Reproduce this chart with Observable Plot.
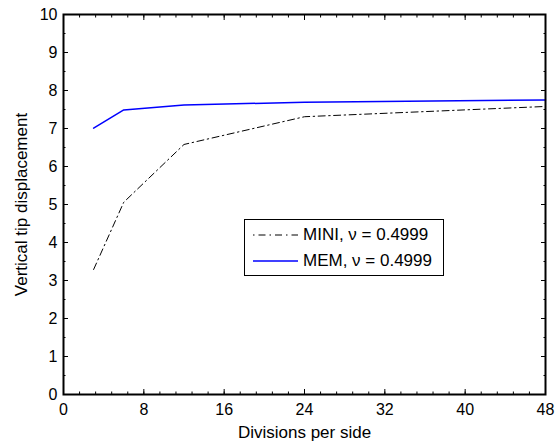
<!DOCTYPE html>
<html>
<head>
<meta charset="utf-8">
<script src="https://cdn.jsdelivr.net/npm/d3@7"></script>
<script src="https://cdn.jsdelivr.net/npm/@observablehq/plot@0.6"></script>
<style>
  body { margin: 0; background: #fff; }
  #wrap { position: relative; width: 558px; height: 445px; font-family: "Liberation Sans", Arial, sans-serif; }
  #legend { position: absolute; left: 244px; top: 219px; width: 198px; height: 55px; border: 1.2px solid #000; background: #fff; }
  #legend .row { position: absolute; left: 0; height: 20px; display: flex; align-items: center; font-size: 17px; color: #000; white-space: nowrap; }
  #legend svg { margin-left: 8px; margin-right: 5px; }
</style>
</head>
<body>
<div id="wrap"></div>
<script>
const divisions = [3, 6, 12, 24, 48];
const miniValues = [3.29, 5.06, 6.58, 7.31, 7.58];
const memValues = [7.01, 7.49, 7.62, 7.69, 7.75];
const xMajorTicks = [0, 8, 16, 24, 32, 40, 48];
const xMinorTicks = d3.range(0, 48.01, 1.6);
const yMajorTicks = [0, 1, 2, 3, 4, 5, 6, 7, 8, 9, 10];
const yMinorTicks = d3.range(0, 10.01, 0.5);
const seriesNames = ["MINI, \u03bd = 0.4999", "MEM, \u03bd = 0.4999"];
const xLabel = "Divisions per side";
const yLabel = "Vertical tip displacement";

const mini = divisions.map((x, i) => ({x, y: miniValues[i]}));
const mem = divisions.map((x, i) => ({x, y: memValues[i]}));

const blank = () => "";
const chart = Plot.plot({
  width: 558,
  height: 445,
  marginLeft: 63,
  marginRight: 13,
  marginTop: 14,
  marginBottom: 51,
  style: {fontFamily: "Liberation Sans, Arial, sans-serif", fontSize: "16px", color: "#000", background: "#fff"},
  x: {domain: [0, 48], label: null},
  y: {domain: [0, 10], label: null},
  marks: [
    Plot.line(mini, {x: "x", y: "y", stroke: "#000", strokeWidth: 1, strokeDasharray: "7,3.5,1.5,3.5"}),
    Plot.line(mem, {x: "x", y: "y", stroke: "#0000ff", strokeWidth: 1.5}),
    Plot.frame({stroke: "#000", strokeWidth: 2}),
    Plot.axisX({anchor: "bottom", ticks: xMajorTicks, tickSize: 0, tickPadding: 9, fontSize: 16, label: null}),
    Plot.axisX({anchor: "bottom", ticks: xMajorTicks, tickSize: -5, tickFormat: blank, label: null}),
    Plot.axisX({anchor: "bottom", ticks: xMinorTicks, tickSize: -2.5, tickFormat: blank, label: null}),
    Plot.axisX({anchor: "top", ticks: xMajorTicks, tickSize: -5, tickFormat: blank, label: null}),
    Plot.axisX({anchor: "top", ticks: xMinorTicks, tickSize: -2.5, tickFormat: blank, label: null}),
    Plot.axisY({anchor: "left", ticks: yMajorTicks, tickSize: 0, tickPadding: 6, fontSize: 16, label: null}),
    Plot.axisY({anchor: "left", ticks: yMajorTicks, tickSize: -5, tickFormat: blank, label: null}),
    Plot.axisY({anchor: "left", ticks: yMinorTicks, tickSize: -2.5, tickFormat: blank, label: null}),
    Plot.axisY({anchor: "right", ticks: yMajorTicks, tickSize: -5, tickFormat: blank, label: null}),
    Plot.axisY({anchor: "right", ticks: yMinorTicks, tickSize: -2.5, tickFormat: blank, label: null}),
    Plot.text([xLabel], {text: d => d, frameAnchor: "bottom", textAnchor: "middle", lineAnchor: "middle", dy: 38.5, fontSize: 17, fill: "#000"}),
    Plot.text([yLabel], {text: d => d, frameAnchor: "left", textAnchor: "middle", lineAnchor: "middle", rotate: -90, dx: -42, fontSize: 17, fill: "#000"})
  ]
});
const wrap = document.getElementById("wrap");
wrap.appendChild(chart);

const legend = document.createElement("div");
legend.id = "legend";
const styles = [
  {stroke: "#000", width: 1, dash: "1.5,4,7,4"},
  {stroke: "#0000ff", width: 1.5, dash: null}
];
seriesNames.forEach((name, i) => {
  const row = document.createElement("div");
  row.className = "row";
  row.style.top = (i === 0 ? 5 : 30.5) + "px";
  const s = styles[i];
  row.innerHTML = `<svg width="45" height="10"><line x1="0" y1="5" x2="45" y2="5" stroke="${s.stroke}" stroke-width="${s.width}" ${s.dash ? `stroke-dasharray="${s.dash}"` : ""}/></svg><span>${name}</span>`;
  legend.appendChild(row);
});
wrap.appendChild(legend);
</script>
</body>
</html>
